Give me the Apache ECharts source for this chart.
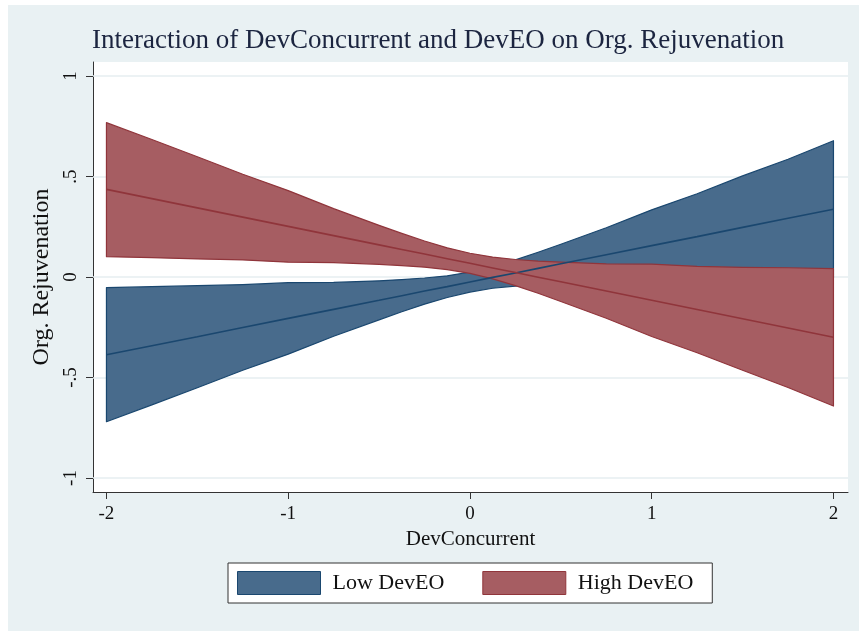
<!DOCTYPE html>
<html>
<head>
<meta charset="utf-8">
<script src="https://cdn.jsdelivr.net/npm/echarts@6/dist/echarts.min.js"></script>
<style>
  html, body { margin: 0; padding: 0; background: #ffffff; }
  #chart { width: 859px; height: 631px; }
</style>
</head>
<body>
<div id="chart"></div>
<script>
// Predicted Org. Rejuvenation across DevConcurrent, with 95% bands
const xValues   = [-2, -1.75, -1.5, -1.25, -1, -0.75, -0.5, -0.375, -0.25, -0.125, 0, 0.125, 0.25, 0.375, 0.5, 0.75, 1, 1.25, 1.5, 1.75, 2];

const lowFit    = [-0.387, -0.342, -0.297, -0.251, -0.206, -0.161, -0.116, -0.093, -0.070, -0.048, -0.025, -0.002, 0.020, 0.043, 0.066, 0.111, 0.156, 0.201, 0.247, 0.292, 0.337];
const lowLower  = [-0.720, -0.636, -0.551, -0.464, -0.384, -0.295, -0.213, -0.173, -0.135, -0.102, -0.075, -0.056, -0.045, -0.037, -0.031, -0.023, -0.022, -0.012, -0.009, -0.002, -0.004];
const lowUpper  = [-0.053, -0.048, -0.043, -0.038, -0.028, -0.027, -0.019, -0.013, -0.005, 0.006, 0.025, 0.052, 0.085, 0.123, 0.163, 0.245, 0.334, 0.414, 0.503, 0.586, 0.678];

const highFit   = [0.436, 0.390, 0.344, 0.298, 0.252, 0.206, 0.160, 0.137, 0.114, 0.091, 0.068, 0.045, 0.022, -0.001, -0.024, -0.070, -0.116, -0.162, -0.208, -0.254, -0.300];
const highLower = [0.101, 0.096, 0.090, 0.085, 0.074, 0.072, 0.063, 0.057, 0.049, 0.037, 0.018, -0.009, -0.043, -0.081, -0.122, -0.205, -0.296, -0.377, -0.464, -0.550, -0.642];
const highUpper = [0.768, 0.684, 0.598, 0.511, 0.430, 0.340, 0.257, 0.217, 0.179, 0.145, 0.118, 0.099, 0.087, 0.079, 0.074, 0.065, 0.064, 0.053, 0.048, 0.046, 0.042];

const xTicks = [-2, -1, 0, 1, 2];
const yTicks = [-1, -0.5, 0, 0.5, 1];
const yTickText = { '-1': '-1', '-0.5': '-.5', '0': '0', '0.5': '.5', '1': '1' };

const seriesNames = ['Low DevEO', 'High DevEO'];

const NAVY = '#1a476f', NAVY_FILL = '#486b8c';
const MAROON = '#90353b', MAROON_FILL = '#a65d62';
const SERIF = '"Liberation Serif", "Times New Roman", serif';

function band(name, lower, upper, fill, edge) {
  return {
    name: name,
    type: 'custom',
    z: 2,
    silent: true,
    itemStyle: { color: fill, borderColor: edge, borderWidth: 1 },
    encode: { x: 0, y: [1, 2] },
    data: xValues.map((x, i) => [x, lower[i], upper[i]]),
    renderItem: function (params, api) {
      if (params.dataIndex !== 0) return null;
      const pts = [];
      for (let i = 0; i < xValues.length; i++) pts.push(api.coord([xValues[i], upper[i]]));
      for (let i = xValues.length - 1; i >= 0; i--) pts.push(api.coord([xValues[i], lower[i]]));
      return {
        type: 'polygon',
        shape: { points: pts, smooth: 0 },
        style: { fill: fill, stroke: edge, lineWidth: 1.2, lineJoin: 'round' }
      };
    }
  };
}

function fitLine(name, values, color) {
  return {
    name: name,
    type: 'line',
    z: 3,
    silent: true,
    showSymbol: false,
    symbol: 'none',
    lineStyle: { color: color, width: 1.6 },
    itemStyle: { color: color },
    data: xValues.map((x, i) => [x, values[i]])
  };
}

const chart = echarts.init(document.getElementById('chart'), null, { renderer: 'canvas' });

chart.setOption({
  animation: false,
  backgroundColor: '#ffffff',
  graphic: [{
    type: 'rect',
    z: -10,
    silent: true,
    shape: { x: 8, y: 5, width: 851, height: 626 },
    style: { fill: '#e9f1f3' }
  }],
  title: {
    text: 'Interaction of DevConcurrent and DevEO on Org. Rejuvenation',
    left: 92,
    top: 27,
    padding: 0,
    textStyle: { fontFamily: SERIF, fontSize: 27, fontWeight: 'normal', color: '#1c2540' }
  },
  legend: {
    left: 228,
    top: 563,
    orient: 'horizontal',
    backgroundColor: '#ffffff',
    borderColor: '#333333',
    borderWidth: 1,
    borderRadius: 0,
    padding: [8, 19, 8, 9],
    itemWidth: 83,
    itemHeight: 23,
    itemGap: 38,
    selectedMode: false,
    textStyle: { fontFamily: SERIF, fontSize: 22, color: '#111111', padding: [0, 0, 0, 7] },
    data: [
      { name: seriesNames[0], icon: 'rect', itemStyle: { color: NAVY_FILL, borderColor: NAVY, borderWidth: 1 } },
      { name: seriesNames[1], icon: 'rect', itemStyle: { color: MAROON_FILL, borderColor: MAROON, borderWidth: 1 } }
    ]
  },
  grid: {
    left: 93,
    right: 11,
    top: 62,
    bottom: 139,
    show: true,
    backgroundColor: '#ffffff',
    borderWidth: 0
  },
  xAxis: {
    type: 'value',
    min: -2.074,
    max: 2.080,
    name: 'DevConcurrent',
    nameLocation: 'middle',
    nameGap: 36,
    nameTextStyle: { fontFamily: SERIF, fontSize: 21, color: '#111111' },
    axisLine: { show: true, onZero: false, lineStyle: { color: '#333333', width: 1 } },
    axisTick: { show: true, length: 7, customValues: xTicks, lineStyle: { color: '#333333' } },
    axisLabel: {
      customValues: xTicks,
      margin: 13,
      fontFamily: SERIF, fontSize: 19, color: '#111111',
      formatter: v => String(v)
    },
    splitLine: { show: false }
  },
  yAxis: {
    type: 'value',
    min: -1.0697,
    max: 1.0697,
    name: 'Org. Rejuvenation',
    nameLocation: 'middle',
    nameGap: 36,
    nameRotate: 90,
    nameTextStyle: { fontFamily: SERIF, fontSize: 24, color: '#111111' },
    axisLine: { show: true, onZero: false, lineStyle: { color: '#333333', width: 1 } },
    axisTick: { show: true, length: 7, customValues: yTicks, lineStyle: { color: '#333333' } },
    axisLabel: {
      customValues: yTicks,
      rotate: 90,
      margin: 12,
      fontFamily: SERIF, fontSize: 19, color: '#111111',
      formatter: v => yTickText[String(v)]
    },
    splitLine: { show: false }
  },
  series: [
    {
      type: 'line',
      z: 1,
      zlevel: 0,
      silent: true,
      data: [],
      markLine: {
        z: 1,
        silent: true,
        animation: false,
        symbol: ['none', 'none'],
        label: { show: false },
        emphasis: { disabled: true },
        lineStyle: { color: '#e6eef1', width: 1.5, type: 'solid' },
        data: yTicks.map(v => ({ yAxis: v }))
      }
    },
    band(seriesNames[0], lowLower, lowUpper, NAVY_FILL, NAVY),
    band(seriesNames[1], highLower, highUpper, MAROON_FILL, MAROON),
    fitLine(seriesNames[0], lowFit, NAVY),
    fitLine(seriesNames[1], highFit, MAROON)
  ]
});
</script>
</body>
</html>
